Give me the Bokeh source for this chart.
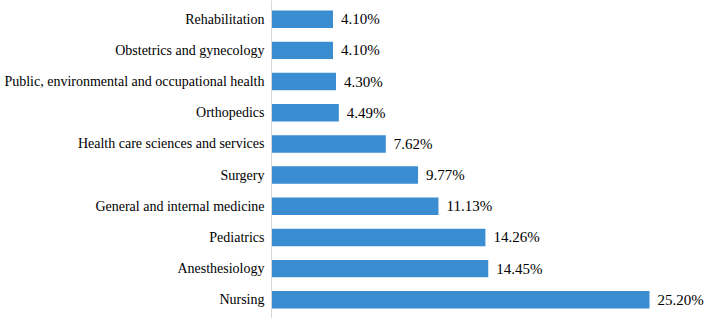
from bokeh.plotting import figure
from bokeh.models import FactorRange, Range1d, ColumnDataSource, LabelSet
from bokeh.embed import file_html
from bokeh.resources import INLINE

categories = ["Rehabilitation", "Obstetrics and gynecology",
              "Public, environmental and occupational health", "Orthopedics",
              "Health care sciences and services", "Surgery",
              "General and internal medicine", "Pediatrics", "Anesthesiology", "Nursing"]
values = [4.10, 4.10, 4.30, 4.49, 7.62, 9.77, 11.13, 14.26, 14.45, 25.20]
labels = ["4.10%", "4.10%", "4.30%", "4.49%", "7.62%", "9.77%", "11.13%", "14.26%", "14.45%", "25.20%"]

FONT = "Times New Roman"

src = ColumnDataSource(dict(cat=categories, val=values, lab=labels))

p = figure(width=709, height=318, output_backend="svg", toolbar_location=None,
           y_range=FactorRange(factors=list(reversed(categories)), range_padding=0.02),
           x_range=Range1d(0, 29.2), x_axis_location=None,
           min_border_left=271, min_border_right=0, min_border_top=0, min_border_bottom=0)
p.outline_line_color = None
p.xgrid.visible = False
p.ygrid.visible = False
p.background_fill_color = "white"
p.border_fill_color = "white"

p.hbar(y="cat", right="val", left=0, height=0.56, source=src,
       fill_color="#3A8DD0", line_color=None)

p.yaxis.axis_line_color = "#D9D9D9"
p.yaxis.axis_line_width = 1
p.yaxis.major_tick_line_color = None
p.yaxis.minor_tick_line_color = None
p.yaxis.major_tick_out = 0
p.yaxis.major_tick_in = 0
p.yaxis.major_label_standoff = 7
p.yaxis.major_label_text_font = FONT
p.yaxis.major_label_text_font_size = "14px"
p.yaxis.major_label_text_color = "#000000"

ls = LabelSet(x="val", y="cat", text="lab", source=src, x_offset=8, y_offset=0,
              text_font=FONT, text_font_size="15px", text_color="#000000",
              text_baseline="middle", text_align="left")
p.add_layout(ls)

open("out.html", "w").write(file_html(p, INLINE))
